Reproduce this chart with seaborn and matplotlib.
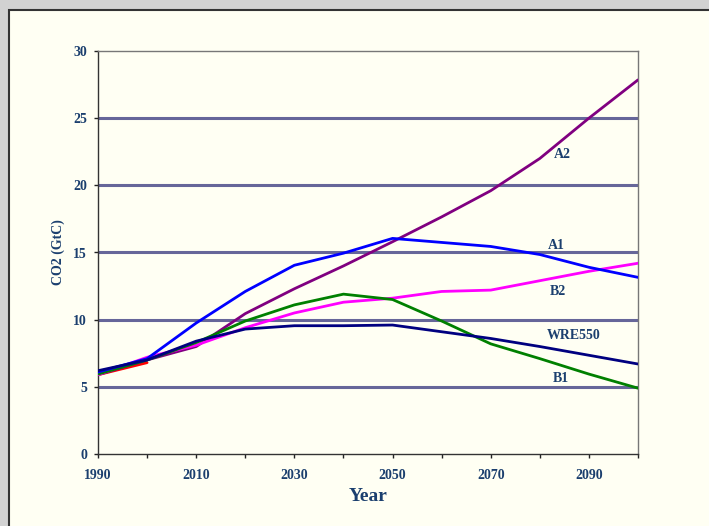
import matplotlib
matplotlib.use("Agg")
import matplotlib.pyplot as plt
from matplotlib.patches import Rectangle
import pandas as pd
import seaborn as sns

# Emission scenarios, CO2 emissions in GtC per decade
years = [1990, 2000, 2010, 2020, 2030, 2040, 2050, 2060, 2070, 2080, 2090, 2100]
a2 = [5.9, 7.0, 8.0, 10.45, 12.3, 14.0, 15.8, 17.65, 19.6, 22.0, 25.0, 27.85]
a1 = [6.1, 7.1, 9.75, 12.1, 14.05, 14.95, 16.05, 15.75, 15.45, 14.85, 13.9, 13.15]
b2 = [5.9, 7.2, 8.1, 9.4, 10.5, 11.3, 11.6, 12.1, 12.2, 12.9, 13.6, 14.2]
b1 = [5.95, 7.0, 8.3, 9.9, 11.1, 11.9, 11.5, 9.9, 8.2, 7.1, 5.95, 4.9]
wre550 = [6.2, 7.0, 8.4, 9.3, 9.55, 9.55, 9.6, 9.1, 8.6, 8.0, 7.35, 6.7]
hist_years = [1990, 2000]
historical = [5.9, 6.8]

series = {"A2": a2, "B2": b2, "B1": b1, "A1": a1, "WRE550": wre550}
colors = {"A2": "#800080", "B2": "#FF00FF", "B1": "#008000", "A1": "#0000FF",
          "WRE550": "#000080", "Historical": "#FF0000"}

rows = [{"Year": y, "CO2": v, "Scenario": "Historical"} for y, v in zip(hist_years, historical)]
for name, vals in series.items():
    rows += [{"Year": y, "CO2": v, "Scenario": name} for y, v in zip(years, vals)]
df = pd.DataFrame(rows)

label_pos = {"A2": (2084.5, 22.3), "A1": (2083.3, 15.55), "B2": (2083.7, 12.1),
             "WRE550": (2086.8, 8.8), "B1": (2084.3, 5.6)}

sns.set_style("white")
plt.rcParams["font.family"] = ["Liberation Serif", "DejaVu Serif"]
plt.rcParams["font.weight"] = "bold"

text_color = "#1B3F6E"
W, H = 709, 526
fig = plt.figure(figsize=(W / 100, H / 100), dpi=100, facecolor="#D2D2D2")

# slide panel behind the chart
bg = fig.add_axes([0, 0, 1, 1], zorder=-5)
bg.set_xlim(0, W)
bg.set_ylim(H, 0)
bg.axis("off")
bg.add_patch(Rectangle((9, 10), W, H, facecolor="#FFFFF3", edgecolor="#333333", linewidth=1.5))

ax = fig.add_axes([98 / W, 72 / H, 540 / W, 403 / H], zorder=1)
ax.set_facecolor("#FFFFF3")

for y in [5, 10, 15, 20, 25]:
    ax.axhline(y, color="#666699", linewidth=2.2, zorder=1)

order = ["Historical", "A2", "B2", "B1", "A1", "WRE550"]
sns.lineplot(data=df, x="Year", y="CO2", hue="Scenario", hue_order=order, palette=colors,
             linewidth=2.0, legend=False, ax=ax, zorder=3)

for name, (x, y) in label_pos.items():
    ax.text(x, y, name, color=text_color, fontsize=10, fontweight="bold",
            ha="center", va="center")

ax.set_xlim(1990, 2100)
ax.set_ylim(0, 30)
ax.set_xticks(range(1990, 2101, 10))
ax.set_xticklabels([str(y) if (y - 1990) % 20 == 0 and y < 2100 else "" for y in range(1990, 2101, 10)])
ax.set_yticks(range(0, 31, 5))
ax.tick_params(axis="both", bottom=True, left=True, direction="out", length=3, width=1,
               color="#222222", labelcolor=text_color, labelsize=10)
ax.tick_params(axis="x", pad=8)
ax.tick_params(axis="y", pad=5)
for lbl in ax.get_xticklabels() + ax.get_yticklabels():
    lbl.set_fontweight("bold")

for side in ["left", "bottom"]:
    ax.spines[side].set_color("#333333")
    ax.spines[side].set_linewidth(1.0)
for side in ["top", "right"]:
    ax.spines[side].set_color("#777777")
    ax.spines[side].set_linewidth(1.0)

ax.set_xlabel("Year", color=text_color, fontsize=14, fontweight="bold", labelpad=4)
ax.set_ylabel("CO2 (GtC)", color=text_color, fontsize=10, fontweight="bold", labelpad=6)

fig.savefig("out.png", dpi=100, facecolor=fig.get_facecolor())
